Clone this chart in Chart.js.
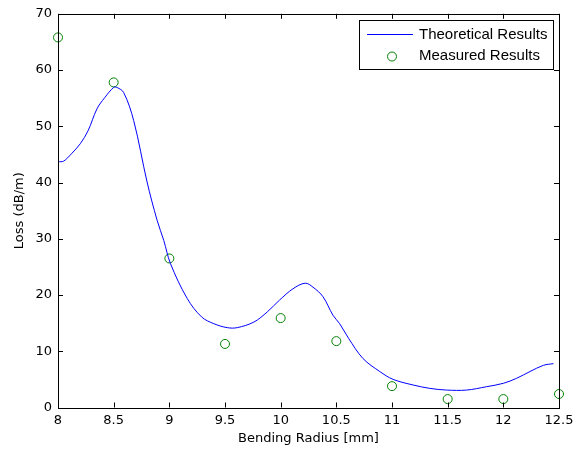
<!DOCTYPE html>
<html>
<head>
<meta charset="utf-8">
<script src="https://cdn.jsdelivr.net/npm/chart.js@4"></script>
<style>
  html, body { margin: 0; padding: 0; background: #fff; }
  #wrap { width: 586px; height: 450px; }
</style>
</head>
<body>
<div id="wrap"><canvas id="chart" width="586" height="450"></canvas></div>
<script>
// theoretical curve
const theoryX = [8.0, 8.05, 8.12, 8.2, 8.27, 8.35, 8.42, 8.5, 8.53, 8.59, 8.68, 8.8, 8.89, 8.95, 9.01,
  9.16, 9.29, 9.4, 9.52, 9.61, 9.76, 9.88, 9.99, 10.11, 10.22, 10.29, 10.38, 10.47, 10.53, 10.61,
  10.74, 10.89, 11.01, 11.19, 11.34, 11.49, 11.67, 11.85, 12.0, 12.12, 12.24, 12.36, 12.45];
const theoryY = [43.7, 43.8, 45.1, 46.9, 49.2, 53.1, 55.1, 56.9, 56.9, 56.0, 51.0, 40.1, 33.3, 29.7, 25.6,
  19.4, 16.1, 14.9, 14.2, 14.2, 15.2, 17.0, 19.1, 21.1, 22.1, 21.4, 19.7, 16.4, 14.9, 12.3,
  8.7, 6.4, 5.0, 4.0, 3.4, 3.1, 3.1, 3.7, 4.3, 5.2, 6.4, 7.5, 7.8];

// measured points
const measuredX = [8, 8.5, 9, 9.5, 10, 10.5, 11, 11.5, 12, 12.5];
const measuredY = [65.8, 57.8, 26.5, 11.3, 15.9, 11.8, 3.8, 1.5, 1.5, 2.4];

const xTicks = [8, 8.5, 9, 9.5, 10, 10.5, 11, 11.5, 12, 12.5];
const yTicks = [0, 10, 20, 30, 40, 50, 60, 70];

const FONT = "'DejaVu Sans', Arial, sans-serif";
const LEGEND_FONT = "Arial, 'Liberation Sans', sans-serif";

// inward ticks on all four sides + box + legend, matlab style
const matlabFrame = {
  id: 'matlabFrame',
  afterDraw(chart) {
    const ctx = chart.ctx;
    const a = chart.chartArea;
    const xs = chart.scales.x, ys = chart.scales.y;
    ctx.save();
    ctx.strokeStyle = '#000';
    ctx.lineWidth = 1;
    ctx.beginPath();
    xTicks.forEach(v => {
      const px = Math.round(xs.getPixelForValue(v)) + 0.5;
      ctx.moveTo(px, a.bottom); ctx.lineTo(px, a.bottom - 5);
      ctx.moveTo(px, a.top); ctx.lineTo(px, a.top + 5);
    });
    yTicks.forEach(v => {
      const py = Math.round(ys.getPixelForValue(v)) + 0.5;
      ctx.moveTo(a.left, py); ctx.lineTo(a.left + 5, py);
      ctx.moveTo(a.right, py); ctx.lineTo(a.right - 5, py);
    });
    ctx.stroke();
    ctx.strokeRect(Math.round(a.left) + 0.5, Math.round(a.top) + 0.5,
      Math.round(a.right - a.left), Math.round(a.bottom - a.top));

    // legend box
    const lx = 359, ly = 20, lw = 194, lh = 49;
    ctx.fillStyle = '#fff';
    ctx.fillRect(lx, ly, lw, lh);
    ctx.strokeRect(lx + 0.5, ly + 0.5, lw, lh);
    ctx.strokeStyle = '#0000ff';
    ctx.beginPath();
    ctx.moveTo(367, 34.5); ctx.lineTo(413, 34.5);
    ctx.stroke();
    ctx.strokeStyle = '#008000';
    ctx.beginPath();
    ctx.arc(392, 56.5, 4.5, 0, Math.PI * 2);
    ctx.stroke();
    ctx.fillStyle = '#000';
    ctx.font = '15px ' + LEGEND_FONT;
    ctx.textBaseline = 'middle';
    ctx.fillText(chart.data.datasets[0].label, 419, 35);
    ctx.fillText(chart.data.datasets[1].label, 419, 56);
    ctx.restore();
  }
};

new Chart(document.getElementById('chart'), {
  type: 'scatter',
  data: {
    datasets: [
      {
        label: 'Theoretical Results',
        data: theoryX.map((x, i) => ({ x: x, y: theoryY[i] })),
        showLine: true,
        borderColor: '#0000ff',
        borderWidth: 1,
        pointRadius: 0,
        tension: 0.35,
        fill: false
      },
      {
        label: 'Measured Results',
        data: measuredX.map((x, i) => ({ x: x, y: measuredY[i] })),
        showLine: false,
        pointRadius: 4.5,
        pointBorderColor: '#008000',
        pointBackgroundColor: 'rgba(0,0,0,0)',
        pointBorderWidth: 1,
        clip: false
      }
    ]
  },
  options: {
    responsive: false,
    animation: false,
    layout: { padding: { top: 13, right: 27, left: 0, bottom: 0 } },
    plugins: { legend: { display: false }, tooltip: { enabled: false } },
    scales: {
      x: {
        type: 'linear', min: 8, max: 12.5,
        afterBuildTicks: s => { s.ticks = xTicks.map(v => ({ value: v })); },
        afterFit: s => { s.height = 42.5; },
        grid: { display: false, drawTicks: false },
        border: { display: false },
        ticks: { color: '#000', padding: 5, font: { family: FONT, size: 13 }, callback: v => String(v) },
        title: { display: true, text: 'Bending Radius [mm]', color: '#000', padding: { top: 0, bottom: 4 }, font: { family: FONT, size: 13 } }
      },
      y: {
        type: 'linear', min: 0, max: 70,
        afterBuildTicks: s => { s.ticks = yTicks.map(v => ({ value: v })); },
        afterFit: s => { s.width = 58; },
        grid: { display: false, drawTicks: false },
        border: { display: false },
        ticks: { color: '#000', padding: 6, font: { family: FONT, size: 13 }, callback: v => String(v) },
        title: { display: true, text: 'Loss (dB/m)', color: '#000', padding: { top: 12, bottom: 0 }, font: { family: FONT, size: 13 } }
      }
    }
  },
  plugins: [matlabFrame]
});
</script>
</body>
</html>
